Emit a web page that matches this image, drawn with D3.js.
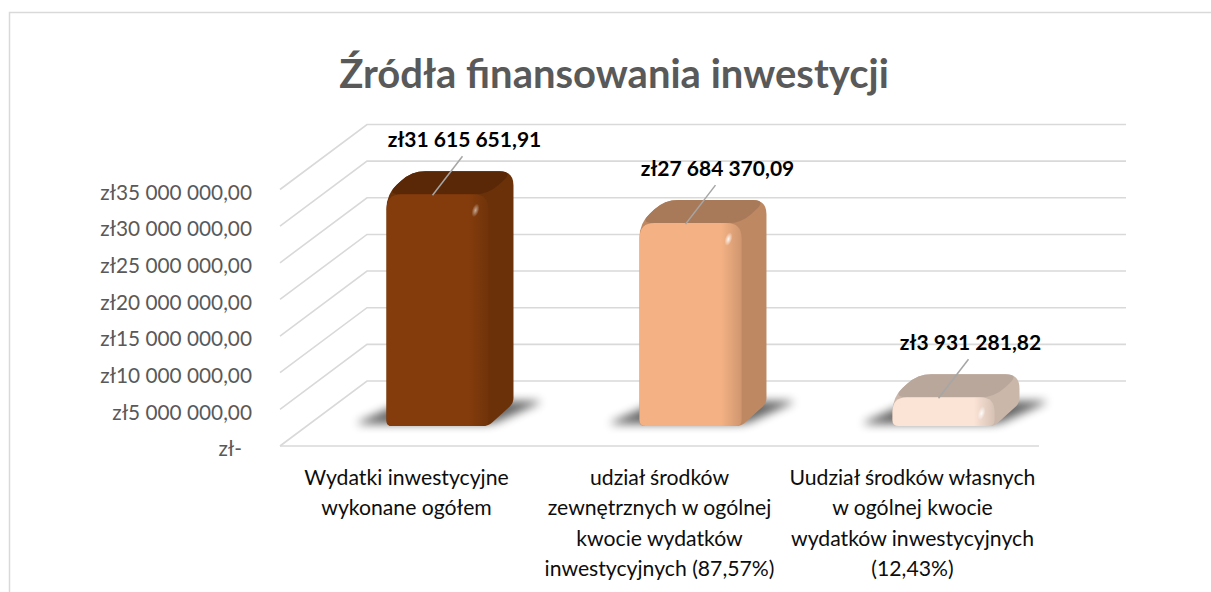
<!DOCTYPE html>
<html>
<head>
<meta charset="utf-8">
<script src="https://cdn.jsdelivr.net/npm/d3@7"></script>
<style>
  html, body { margin: 0; padding: 0; background: #fff; }
  svg { display: block; }
  text { font-family: Lato, "Open Sans", sans-serif; }
</style>
</head>
<body>
<div id="chart"></div>
<script>
(function(){
  const W = 1211, H = 592;

  // data
  const categories = ['wydatki', 'zewnetrzne', 'wlasne'];
  const categoryLines = [
    ['Wydatki inwestycyjne', 'wykonane ogółem'],
    ['udział środków', 'zewnętrznych w ogólnej', 'kwocie wydatków', 'inwestycyjnych (87,57%)'],
    ['Uudział środków własnych', 'w ogólnej kwocie', 'wydatków inwestycyjnych', '(12,43%)']
  ];
  const values = [31615651.91, 27684370.09, 3931281.82];
  const yTicks = [0, 5e6, 10e6, 15e6, 20e6, 25e6, 30e6, 35e6];
  const frontColors = ['#843c0c', '#f4b183', '#fbe3d5'];
  const topColors   = ['#5a2807', '#a97a5a', '#b9a79b'];
  const sideColors  = ['#6b3109', '#be8962', '#cbb7aa'];

  // 3d-ish layout
  const floorLeft = 280, floorRight = 1039, floorY = 446, topY = 189.5;
  const depth = { x: 87, y: -65 };     // wall depth
  const barShift = { x: 31, y: -20 };  // where the bars stand on the floor
  const barDepth = { x: 25, y: -23 };

  const pln = d3.formatLocale({ decimal: ',', thousands: '\u00a0', grouping: [3], currency: ['zł', ''] });
  const money = v => v === 0 ? 'zł-' : pln.format('$,.2f')(v);

  const x = d3.scaleBand().domain(categories).range([floorLeft, floorRight]);
  const y = d3.scaleLinear().domain([0, 35e6]).range([floorY, topY]);

  const svg = d3.select('#chart').append('svg')
      .attr('width', W).attr('height', H);

  const defs = svg.append('defs');
  defs.append('filter').attr('id', 'blur')
      .attr('x', '-50%').attr('y', '-50%').attr('width', '200%').attr('height', '200%')
    .append('feGaussianBlur').attr('stdDeviation', 5);
  const spot = defs.append('radialGradient').attr('id', 'spot');
  spot.append('stop').attr('offset', '0%').attr('stop-color', '#fff').attr('stop-opacity', 0.95);
  spot.append('stop').attr('offset', '100%').attr('stop-color', '#fff').attr('stop-opacity', 0);
  const edge = defs.append('linearGradient').attr('id', 'edge')
      .attr('x1', 0).attr('y1', 0).attr('x2', 1).attr('y2', 0);
  edge.append('stop').attr('offset', '80%').attr('stop-color', '#000').attr('stop-opacity', 0);
  edge.append('stop').attr('offset', '100%').attr('stop-color', '#000').attr('stop-opacity', 0.15);

  // chart frame
  svg.append('rect')
      .attr('x', 9.5).attr('y', 12.5).attr('width', W + 20).attr('height', H + 20)
      .attr('fill', '#fff').attr('stroke', '#d9d9d9').attr('stroke-width', 1.5);

  // title
  svg.append('text')
      .attr('x', 614).attr('y', 88)
      .attr('text-anchor', 'middle')
      .attr('font-size', 40).attr('font-weight', 700)
      .attr('fill', '#595959')
      .text('Źródła finansowania inwestycji');

  // walls: side wall diagonals + back wall lines
  const grid = svg.append('g').attr('stroke', '#d9d9d9').attr('stroke-width', 1.6).attr('fill', 'none');
  grid.selectAll('path.g')
    .data(yTicks)
    .join('path')
      .attr('class', 'g')
      .attr('d', t => {
        const yy = y(t);
        return `M${floorLeft},${yy}L${floorLeft + depth.x},${yy + depth.y}L${floorRight + depth.x},${yy + depth.y}`;
      });
  grid.append('path')
      .attr('d', `M${floorLeft},${floorY}L${floorRight},${floorY}`);

  // y axis labels
  const yAxis = svg.append('g')
      .attr('transform', `translate(${floorLeft - 18},3)`)
      .call(d3.axisLeft(y).tickValues(yTicks).tickFormat(money).tickSize(0).tickPadding(10));
  yAxis.select('.domain').remove();
  yAxis.selectAll('text')
      .attr('font-family', 'Lato, sans-serif')
      .attr('font-size', 20.8)
      .attr('fill', '#595959')
      .attr('dx', t => t === 0 ? -10 : 0);

  // rounded polygon helper
  function roundPoly(pts, radii) {
    const n = pts.length;
    let d = '';
    for (let i = 0; i < n; i++) {
      const p0 = pts[(i - 1 + n) % n], p1 = pts[i], p2 = pts[(i + 1) % n];
      const l0 = Math.hypot(p0[0] - p1[0], p0[1] - p1[1]);
      const l2 = Math.hypot(p2[0] - p1[0], p2[1] - p1[1]);
      const r = Math.min(radii[i], l0 / 2, l2 / 2);
      const a = [p1[0] + (p0[0] - p1[0]) * r / l0, p1[1] + (p0[1] - p1[1]) * r / l0];
      const b = [p1[0] + (p2[0] - p1[0]) * r / l2, p1[1] + (p2[1] - p1[1]) * r / l2];
      d += (i === 0 ? 'M' : 'L') + a[0] + ',' + a[1] + 'Q' + p1[0] + ',' + p1[1] + ' ' + b[0] + ',' + b[1];
    }
    return d + 'Z';
  }

  const barW = x.bandwidth() * 0.403;
  const bars = categories.map((c, i) => {
    const x0 = x(c) + (x.bandwidth() - barW) / 2 + barShift.x;
    return {
      i, value: values[i],
      x0, x1: x0 + barW,
      yT: y(values[i]) + barShift.y,
      yB: y(0) + barShift.y
    };
  });

  const dx = barDepth.x, dy = barDepth.y;
  const g = svg.append('g');

  // floor shadows
  g.selectAll('path.shadow')
    .data(bars)
    .join('path')
      .attr('class', 'shadow')
      .attr('d', b => roundPoly([
        [b.x0 - 32, b.yB - 2], [b.x1 + 4, b.yB - 2],
        [b.x1 + dx + 30, b.yB + dy - 2], [b.x0 + dx - 6, b.yB + dy - 2]
      ], [6, 6, 6, 6]))
      .attr('fill', '#000').attr('opacity', 0.6)
      .attr('filter', 'url(#blur)');

  const bar = g.selectAll('g.bar')
    .data(bars)
    .join('g').attr('class', 'bar');

  // silhouette (side)
  bar.append('path')
      .attr('d', b => roundPoly([
        [b.x0, b.yB], [b.x0, b.yT], [b.x0 + dx, b.yT + dy], [b.x1 + dx, b.yT + dy],
        [b.x1 + dx, b.yB + dy], [b.x1, b.yB]
      ], [5, 14, 14, 14, 5, 5]))
      .attr('fill', b => sideColors[b.i]);

  // top
  bar.append('path')
      .attr('d', b => roundPoly([
        [b.x0, b.yT], [b.x0 + dx, b.yT + dy], [b.x1 + dx, b.yT + dy], [b.x1, b.yT]
      ], [14, 14, 14, 14]))
      .attr('fill', b => topColors[b.i]);

  // front
  const frontPath = b => roundPoly([
    [b.x0, b.yT], [b.x1, b.yT], [b.x1, b.yB], [b.x0, b.yB]
  ], [15, 15, 6, 6]);
  bar.append('path').attr('d', frontPath).attr('fill', b => frontColors[b.i]);
  bar.append('path').attr('d', frontPath).attr('fill', 'url(#edge)');

  // glint
  bar.append('ellipse')
      .attr('cx', b => b.x1 - 13).attr('cy', b => b.yT + 16)
      .attr('rx', 3.5).attr('ry', 7)
      .attr('transform', b => `rotate(18,${b.x1 - 13},${b.yT + 16})`)
      .attr('fill', 'url(#spot)').attr('opacity', b => b.i === 0 ? 0.6 : 0.95);

  // leader lines + data labels
  const lbl = svg.append('g');
  lbl.selectAll('line')
    .data(bars)
    .join('line')
      .attr('x1', b => (b.x0 + b.x1) / 2 + 25).attr('y1', b => b.yT - 38)
      .attr('x2', b => b.x0 + 46).attr('y2', b => b.yT + 1)
      .attr('stroke', '#a6a6a6').attr('stroke-width', 1.5);
  lbl.selectAll('text')
    .data(bars)
    .join('text')
      .attr('x', b => (b.x0 + b.x1) / 2 + 27)
      .attr('y', b => b.yT - 47)
      .attr('text-anchor', 'middle')
      .attr('font-size', 21).attr('font-weight', 700)
      .attr('fill', '#000')
      .text(b => money(b.value));

  // category labels
  const cat = svg.append('g')
    .selectAll('text')
    .data(categories)
    .join('text')
      .attr('x', c => x(c) + x.bandwidth() / 2)
      .attr('y', 485)
      .attr('text-anchor', 'middle')
      .attr('font-size', 21.2)
      .attr('fill', '#0d0d0d');
  cat.selectAll('tspan')
    .data((c, i) => categoryLines[i])
    .join('tspan')
      .attr('x', function() { return this.parentNode.getAttribute('x'); })
      .attr('dy', (d, j) => j === 0 ? 0 : 30.3)
      .text(d => d);
})();
</script>
</body>
</html>
